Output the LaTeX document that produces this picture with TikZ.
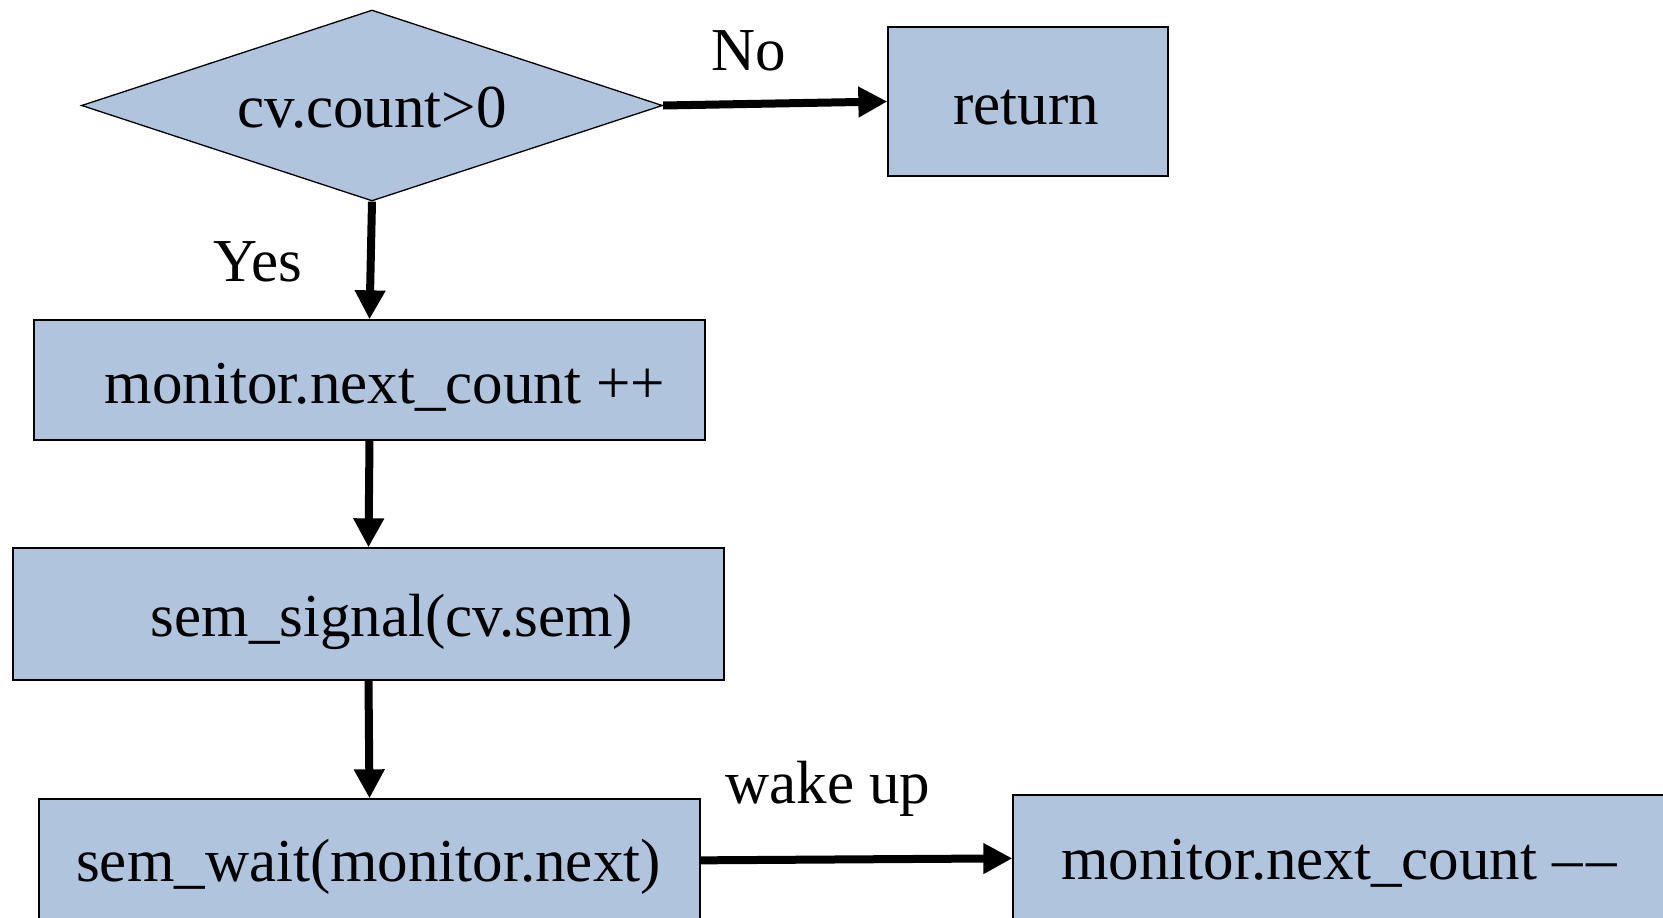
\documentclass[tikz,border=0pt]{standalone}
\usepackage{fontspec}
\setmainfont{Liberation Serif}
\usetikzlibrary{arrows.meta,shapes.geometric}
\definecolor{boxfill}{RGB}{176,196,222}
\begin{document}
\begin{tikzpicture}[x=1pt,y=-1pt,
  box/.style={draw=black,line width=1.3pt,fill=boxfill,inner sep=0pt,rectangle},
  txt/.style={font=\fontsize{61pt}{70pt}\selectfont,inner sep=0pt,anchor=base},
  arr/.style={line width=8pt,-{Triangle[length=29pt,width=29pt]}}]
\clip (0,0) rectangle (1663,918);
\fill[white] (0,0) rectangle (1663,918);
% shapes
\node[box,diamond,minimum width=581pt,minimum height=191pt] (d) at (372,105.5) {};
\node[box,minimum width=280pt,minimum height=149pt] (ret) at (1028,101.5) {};
\node[box,minimum width=671pt,minimum height=120pt] (b1) at (369.5,380) {};
\node[box,minimum width=711pt,minimum height=132pt] (b2) at (368.5,614) {};
\node[box,minimum width=661pt,minimum height=181pt] (b3) at (369.5,889.5) {};
\node[box,minimum width=687pt,minimum height=185pt] (b4) at (1356.5,887.5) {};
% texts
\node[txt] (td) at (372,127) {cv.count>0};
\node[txt] (tr) at (1026,124) {return};
\node[txt] (t1) at (385,403) {monitor.next\_count ++};
\node[txt] (t2) at (392,636) {sem\_signal(cv.sem)};
\node[txt] (t3) at (368.5,881) {sem\_wait(monitor.next)};
\node[txt,anchor=base west] (t4) at (1061,879) {monitor.next\_count –\kern3pt–};
\node[txt] (lno) at (749,70) {No};
\node[txt] (lyes) at (258,281) {Yes};
\node[txt] (lwake) at (828,803) {wake up};
% connectors
\draw[arr] (d.east) -- (ret.west);
\draw[arr] (d.south) -- (b1.north);
\draw[arr] (b1.south) -- (b2.north);
\draw[arr] (b2.south) -- (b3.north);
\draw[arr] ([yshift=-62pt]b3.north east) -- ([yshift=-64pt]b4.north west);
\end{tikzpicture}
\end{document}
